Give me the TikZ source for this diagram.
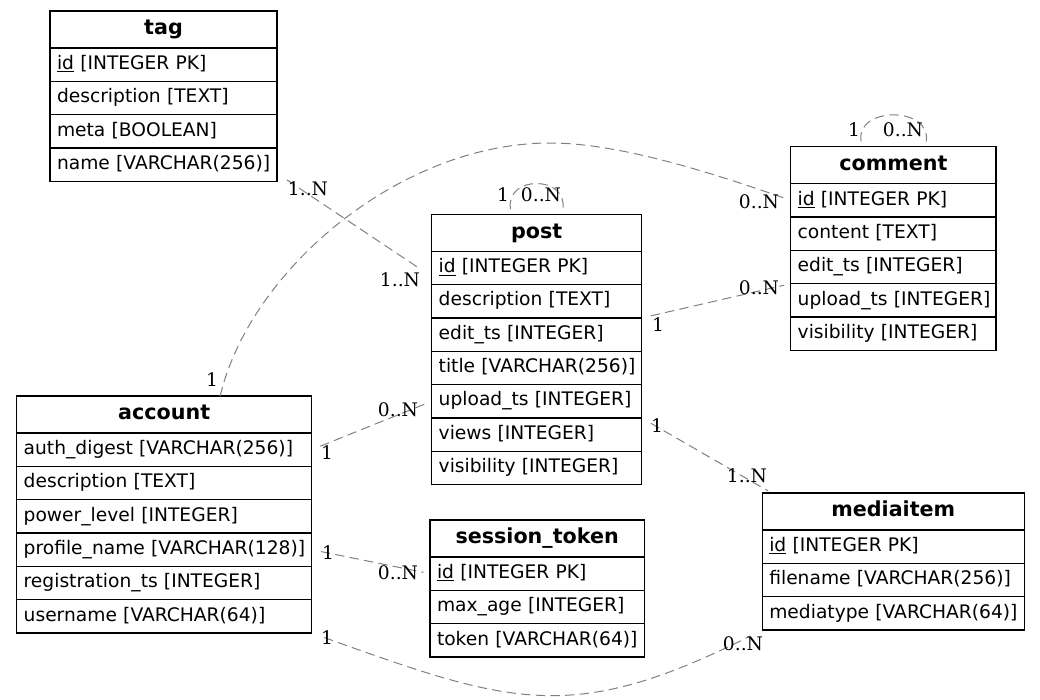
\documentclass[tikz,border=0pt]{standalone}
\usepackage{fontspec}
\setmainfont{DejaVu Sans}
\newfontfamily\cardfont{DejaVu Serif}
\usetikzlibrary{positioning,scopes}

\begin{document}
\begin{tikzpicture}[
    x=0.75pt,y=-0.75pt,
    node distance=0pt,
    box/.style={rectangle,draw=black,line width=1pt,outer sep=0pt,inner xsep=5.25pt,inner ysep=0pt,
        text height=10.5pt,text depth=3.5pt,font=\fontsize{14pt}{16pt}\selectfont},
    head/.style={box,text width=#1,align=center,minimum height=27.75pt,anchor=north west,
        text height=11.5pt,font=\fontsize{15.5pt}{17pt}\selectfont\bfseries},
    field/.style={box,text width=#1,align=left,minimum height=25pt,
        execute at begin node=\hbox\bgroup,execute at end node=\egroup},
    rel/.style={draw=gray,line width=0.75pt,dash pattern=on 7pt off 4pt},
    card/.style={inner sep=0pt,font=\cardfont\fontsize{14pt}{16pt}\selectfont},
]
\useasboundingbox (0,0) rectangle (1040,700);

% tag
\node[head=159.75pt] (tag) at (50,11) {tag};
\node[field=159.75pt,below=of tag] (tag-id) {\underline{id} [INTEGER PK]};
\node[field=159.75pt,below=of tag-id] (tag-desc) {description [TEXT]};
\node[field=159.75pt,below=of tag-desc] (tag-meta) {meta [BOOLEAN]};
\node[field=159.75pt,below=of tag-meta] (tag-name) {name [VARCHAR(256)]};

% post
\node[head=147pt] (post) at (431.7,214.3) {post};
\node[field=147pt,below=of post] (post-id) {\underline{id} [INTEGER PK]};
\node[field=147pt,below=of post-id] (post-desc) {description [TEXT]};
\node[field=147pt,below=of post-desc] (post-edit) {edit\_ts [INTEGER]};
\node[field=147pt,below=of post-edit] (post-title) {title [VARCHAR(256)]};
\node[field=147pt,below=of post-title] (post-upload) {upload\_ts [INTEGER]};
\node[field=147pt,below=of post-upload] (post-views) {views [INTEGER]};
\node[field=147pt,below=of post-views] (post-vis) {visibility [INTEGER]};

% comment
\node[head=143.5pt] (comment) at (790.7,146.7) {comment};
\node[field=143.5pt,below=of comment] (comment-id) {\underline{id} [INTEGER PK]};
\node[field=143.5pt,below=of comment-id] (comment-cont) {content [TEXT]};
\node[field=143.5pt,below=of comment-cont] (comment-edit) {edit\_ts [INTEGER]};
\node[field=143.5pt,below=of comment-edit] (comment-upload) {upload\_ts [INTEGER]};
\node[field=143.5pt,below=of comment-upload] (comment-vis) {visibility [INTEGER]};

% account
\node[head=210.75pt] (account) at (16.7,396) {account};
\node[field=210.75pt,below=of account] (account-auth) {auth\_digest [VARCHAR(256)]};
\node[field=210.75pt,below=of account-auth] (account-desc) {description [TEXT]};
\node[field=210.75pt,below=of account-desc] (account-power) {power\_level [INTEGER]};
\node[field=210.75pt,below=of account-power] (account-prof) {profile\_name [VARCHAR(128)]};
\node[field=210.75pt,below=of account-prof] (account-reg) {registration\_ts [INTEGER]};
\node[field=210.75pt,below=of account-reg] (account-user) {username [VARCHAR(64)]};

% session_token
\node[head=150.2pt] (session) at (430,520) {session\_token};
\node[field=150.2pt,below=of session] (session-id) {\underline{id} [INTEGER PK]};
\node[field=150.2pt,below=of session-id] (session-age) {max\_age [INTEGER]};
\node[field=150.2pt,below=of session-age] (session-tok) {token [VARCHAR(64)]};

% mediaitem
\node[head=186pt] (media) at (762.3,493) {mediaitem};
\node[field=186pt,below=of media] (media-id) {\underline{id} [INTEGER PK]};
\node[field=186pt,below=of media-id] (media-file) {filename [VARCHAR(256)]};
\node[field=186pt,below=of media-file] (media-type) {mediatype [VARCHAR(64)]};

% relations
{[rel]
    \draw[shorten <=9pt,shorten >=13pt] ([yshift=6pt]tag-name.south east) -- ([yshift=6pt]post-id.south west)
        node[card] at (308,189) {1..N} node[card] at (400,280) {1..N};
    \draw[shorten >=5pt] ([xshift=42pt]account.north) .. controls (250,270) and (400,143) .. (550,143)
        .. controls (610,143) and (690,165) .. (comment-id.west)
        node[card] at (212,380) {1} node[card] at (759,202) {0..N};
    \draw[shorten <=7pt,shorten >=5pt] (post-edit.north east) -- (comment-edit.south west)
        node[card] at (658,325) {1} node[card] at (759,288) {0..N};
    \draw[shorten <=8pt,shorten >=3pt] (post-views.north east) -- ([xshift=7pt]media.north west)
        node[card] at (657,426) {1} node[card] at (747,476) {1..N};
    \draw[shorten <=7pt,shorten >=5pt] (account-auth.east) -- (post-upload.west)
        node[card] at (327,453) {1} node[card] at (398,410) {0..N};
    \draw[shorten <=7pt,shorten >=5pt] (account-prof.east) -- (session-id.west)
        node[card] at (328,553) {1} node[card] at (398,573) {0..N};
    \draw[shorten <=10pt,shorten >=10pt] (account-user.south east) .. controls (512,705) and (573,725) .. (media-type.south west)
        node[card] at (327,638) {1} node[card] at (743,644) {0..N};
    \draw[shorten <=4pt,shorten >=4pt] ([xshift=-19pt]post.north) .. controls (505,175) and (568,175) .. ([xshift=19pt]post.north)
        node[card] at (503,195) {1} node[card] at (541,195) {0..N};
    \draw[shorten <=4pt,shorten >=4pt] ([xshift=-23.5pt]comment.north) .. controls (855,106) and (932,106) .. ([xshift=24pt]comment.north)
        node[card] at (854,130) {1} node[card] at (903,130) {0..N};
}
\end{tikzpicture}
\end{document}
